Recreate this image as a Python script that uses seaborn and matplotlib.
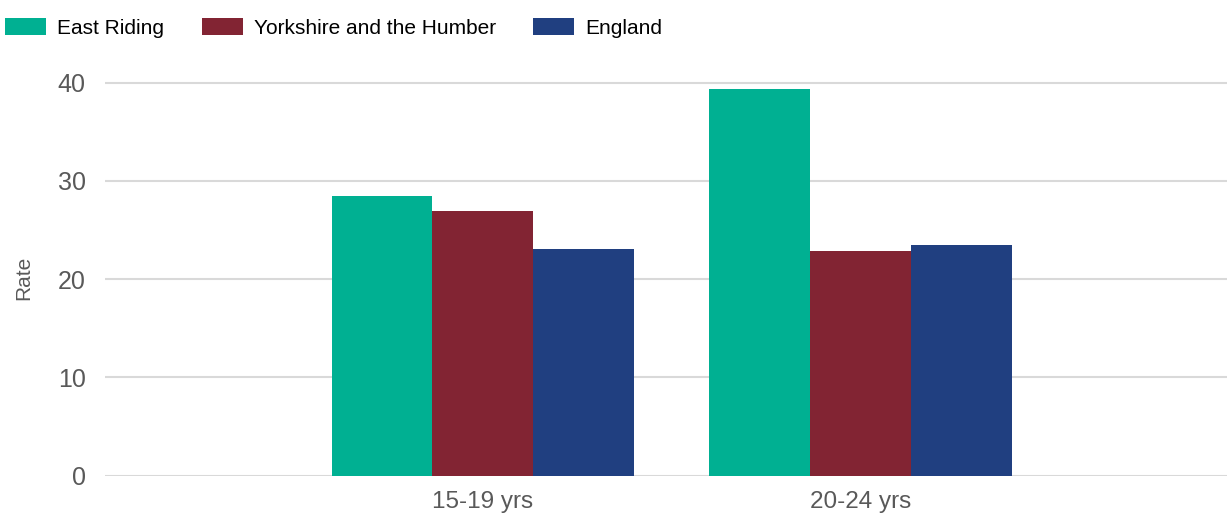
import matplotlib
matplotlib.use("Agg")
import matplotlib.pyplot as plt
from matplotlib.patches import Patch
import pandas as pd
import seaborn as sns

# Rates by age group for each area
age_groups = ["15-19 yrs", "20-24 yrs"]
areas = ["East Riding", "Yorkshire and the Humber", "England"]
east_riding = [28.5, 39.3]
yorkshire_humber = [26.9, 22.9]
england = [23.1, 23.5]
y_ticks = [0, 10, 20, 30, 40]

colors = {"East Riding": "#00B092",
          "Yorkshire and the Humber": "#822433",
          "England": "#203F80"}

df = pd.DataFrame({
    "age": age_groups * 3,
    "area": [a for a in areas for _ in age_groups],
    "rate": east_riding + yorkshire_humber + england,
})

sns.set_theme(style="white")
plt.rcParams["font.family"] = ["Liberation Sans", "DejaVu Sans"]

fig = plt.figure(figsize=(12.27, 5.18), dpi=100)
ax = fig.add_axes([0.0856, 0.0817, 0.9144, 0.778])

sns.barplot(data=df, x="age", y="rate", hue="area", order=age_groups,
            hue_order=areas, palette=colors, width=0.8, saturation=1,
            edgecolor="none", linewidth=0, legend=False, ax=ax)

ax.set_xlim(-1.0, 1.97)
ax.set_ylim(0, 41)
ax.set_yticks(y_ticks)
ax.set_axisbelow(True)
ax.grid(axis="y", color="#D9D9D9", linewidth=1.5)
ax.grid(axis="x", visible=False)
for s in ax.spines.values():
    s.set_visible(False)

ax.tick_params(axis="y", length=0, pad=14, labelsize=18, labelcolor="#595959")
ax.tick_params(axis="x", length=0, pad=11, labelsize=17.5, labelcolor="#595959")
ax.set_xlabel("")
ax.set_ylabel("Rate", fontsize=15, color="#595959")
ax.yaxis.set_label_coords(-0.064, 0.49)

handles = [Patch(facecolor=colors[a], edgecolor="none", label=a) for a in areas]
fig.legend(handles=handles, loc="upper left", ncol=3,
           bbox_to_anchor=(5 / 1227, 1 - 18 / 518), frameon=False,
           fontsize=15, handlelength=1.97, handleheight=0.87,
           handletextpad=0.53, columnspacing=1.8, borderpad=0,
           borderaxespad=0, labelcolor="#000000")

fig.savefig("out.png", dpi=100)
